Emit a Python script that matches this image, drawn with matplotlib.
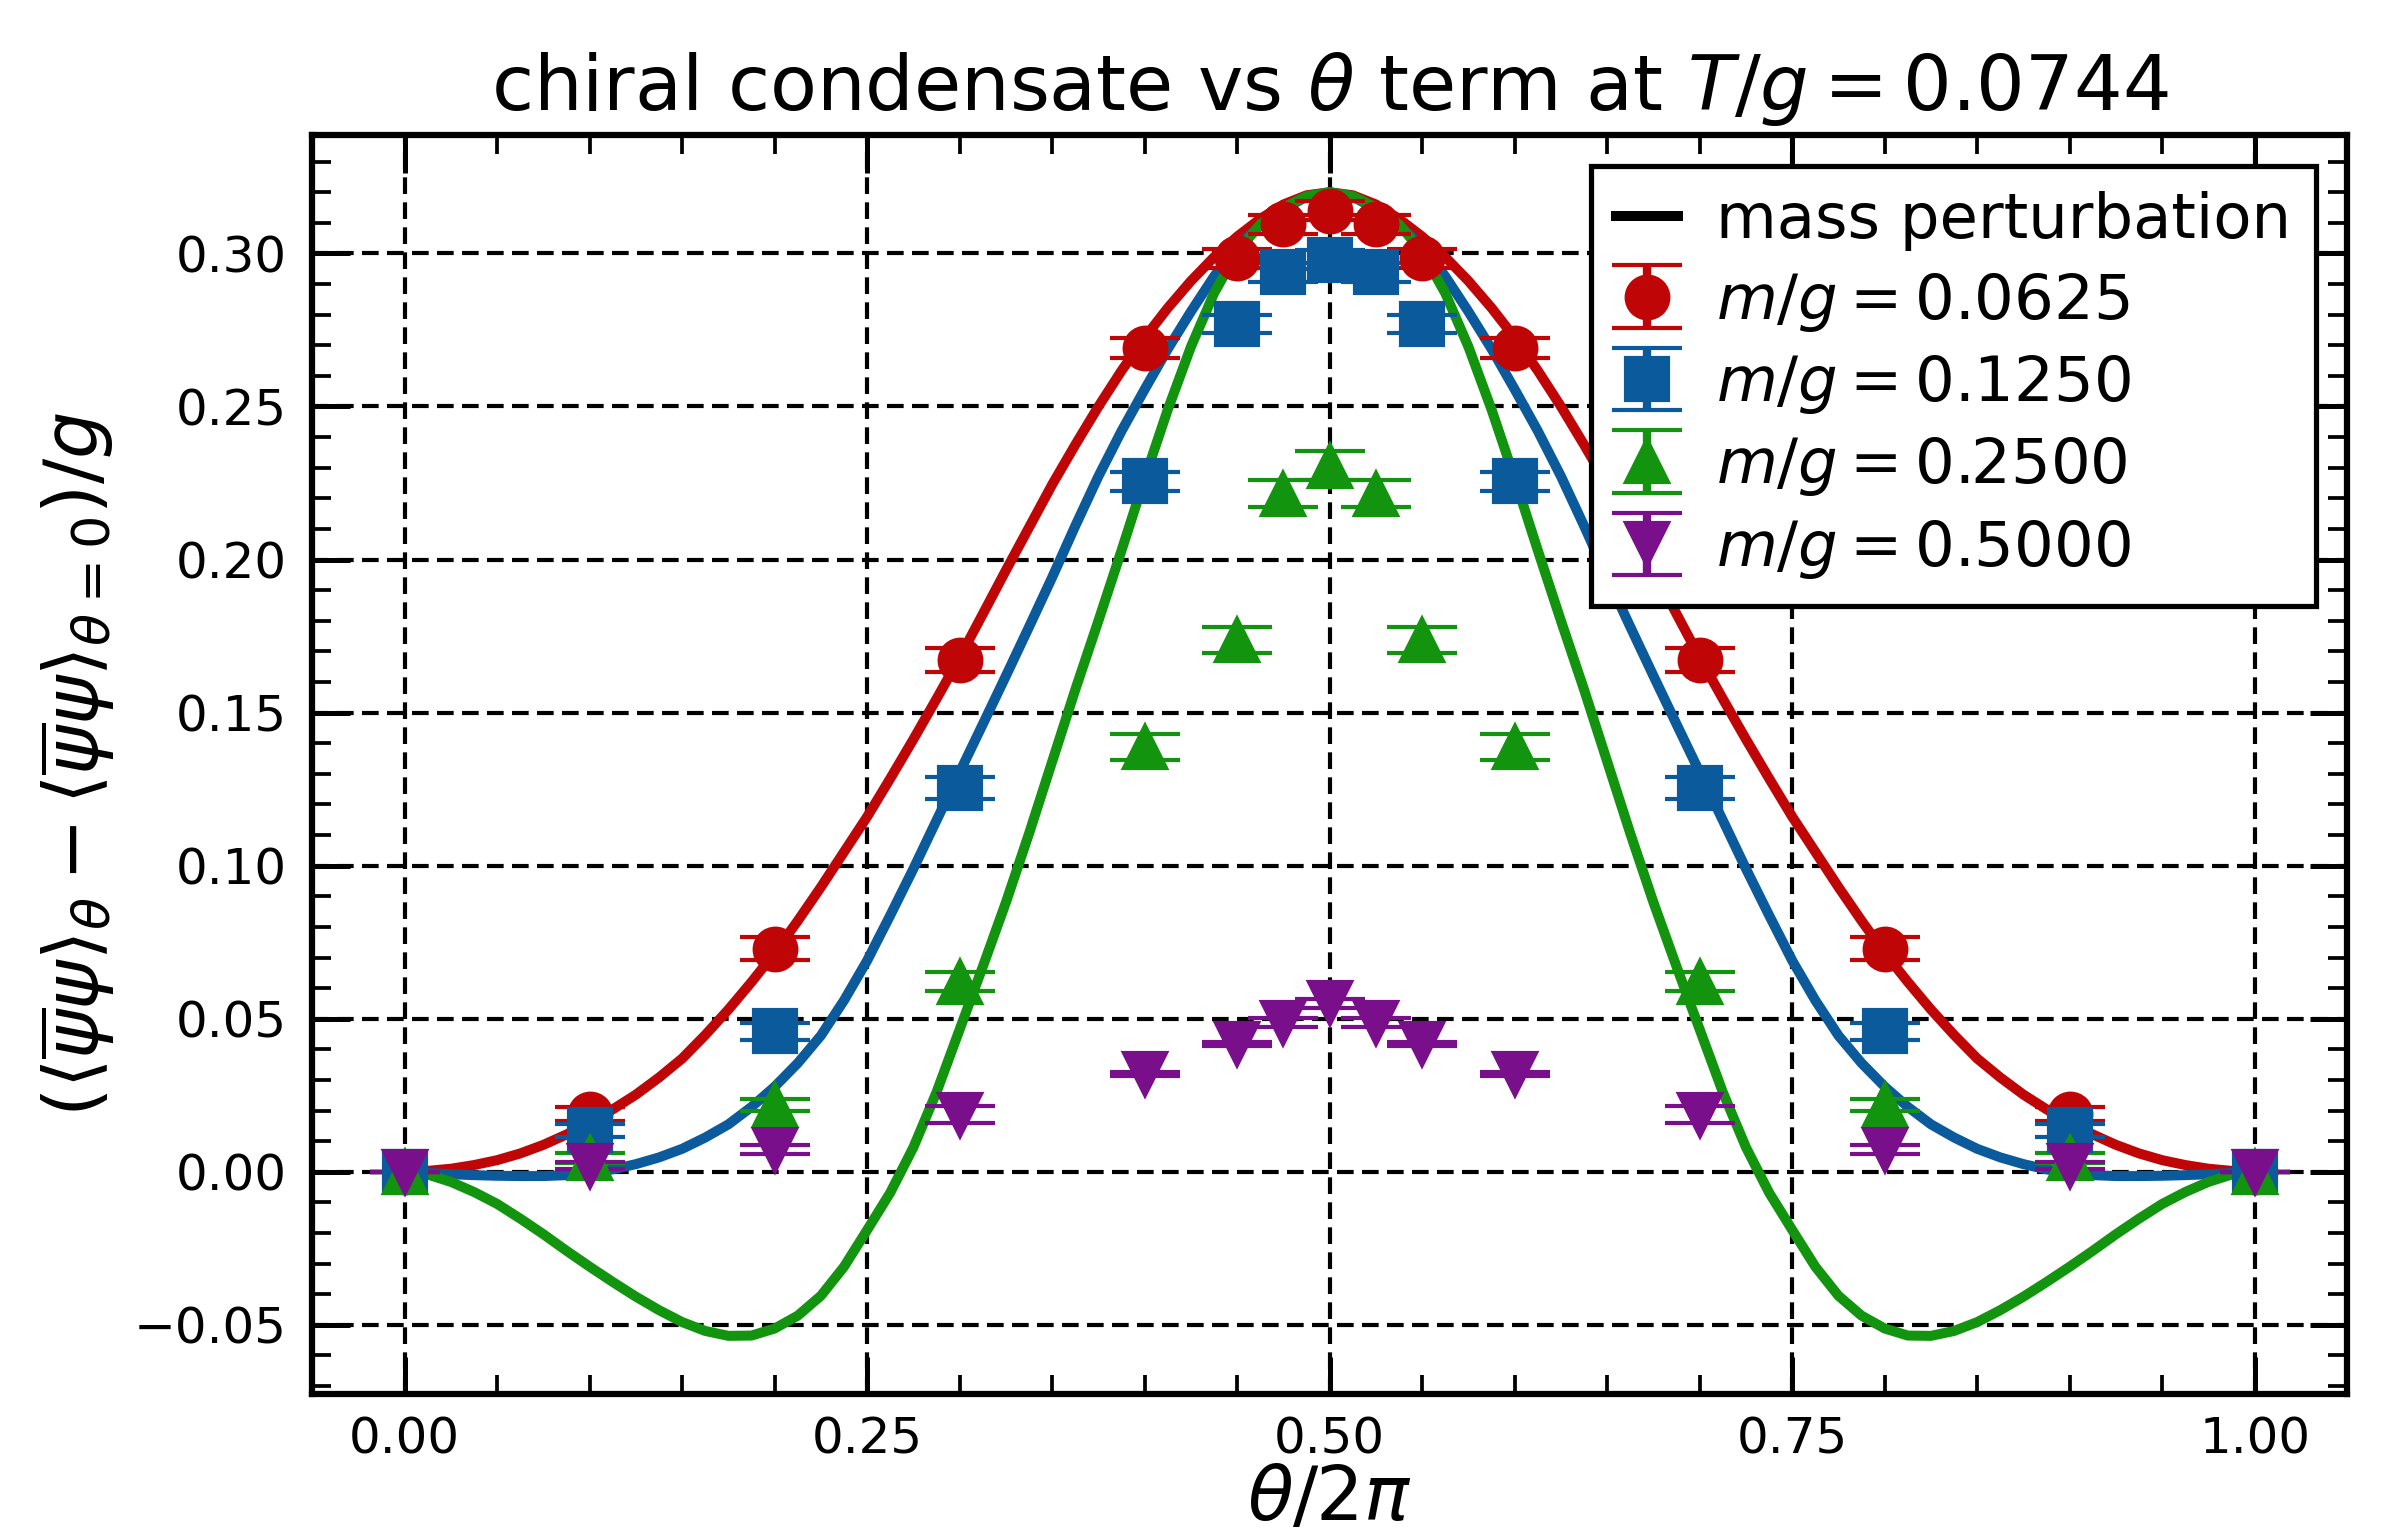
import numpy as np
import matplotlib
matplotlib.use("Agg")
import matplotlib.pyplot as plt
from matplotlib.lines import Line2D
from matplotlib.ticker import MultipleLocator

plt.rcParams['font.family'] = ['DejaVu Sans']
plt.rcParams['mathtext.fontset'] = 'dejavusans'

# ---- data ----
theta_data = [0, 0.1, 0.2, 0.3, 0.4, 0.45, 0.475, 0.5, 0.525, 0.55, 0.6, 0.7, 0.8, 0.9, 1.0]

red_val = [0, 0.0188, 0.0729, 0.1672, 0.2691, 0.2984, 0.3095, 0.3140, 0.3095, 0.2984, 0.2691, 0.1672, 0.0729, 0.0188, 0]
red_err = [0, 0.0023, 0.0038, 0.0040, 0.0034, 0.0030, 0.0030, 0.0030, 0.0030, 0.0030, 0.0034, 0.0040, 0.0038, 0.0023, 0]

blue_val = [0, 0.0135, 0.0459, 0.1254, 0.2256, 0.2769, 0.2938, 0.2980, 0.2938, 0.2769, 0.2256, 0.1254, 0.0459, 0.0135, 0]
blue_err = [0, 0.0022, 0.0028, 0.0036, 0.0031, 0.0030, 0.0030, 0.0030, 0.0030, 0.0030, 0.0031, 0.0036, 0.0028, 0.0022, 0]

green_val = [0, 0.0045, 0.0218, 0.0621, 0.1388, 0.1738, 0.2215, 0.2306, 0.2215, 0.1738, 0.1388, 0.0621, 0.0218, 0.0045, 0]
green_err = [0, 0.0015, 0.0019, 0.0031, 0.0043, 0.0042, 0.0044, 0.0047, 0.0044, 0.0042, 0.0043, 0.0031, 0.0019, 0.0015, 0]

purple_val = [0, 0.0020, 0.0072, 0.0187, 0.0320, 0.0417, 0.0487, 0.0550, 0.0487, 0.0417, 0.0320, 0.0187, 0.0072, 0.0020, 0]
purple_err = [0, 0.0012, 0.0015, 0.0028, 0.0007, 0.0007, 0.0015, 0.0015, 0.0015, 0.0007, 0.0007, 0.0028, 0.0015, 0.0012, 0]

# mass perturbation curves, sampled every 0.0125 in theta/2pi (81 points)
theta_curve = np.linspace(0, 1, 81)
red_curve = [
    0, 0.0003, 0.0010, 0.0022, 0.0038, 0.0060, 0.0088, 0.0122, 0.0160, 0.0204,
    0.0252, 0.0308, 0.0370, 0.0447, 0.0530, 0.0620, 0.0715, 0.0820, 0.0930, 0.1045,
    0.1160, 0.1285, 0.1413, 0.1545, 0.1680, 0.1822, 0.1965, 0.2105, 0.2245, 0.2375,
    0.2500, 0.2617, 0.2725, 0.2822, 0.2910, 0.2988, 0.3055, 0.3113, 0.3160, 0.3190,
    0.3200,
    0.3190, 0.3160, 0.3113, 0.3055, 0.2988, 0.2910, 0.2822, 0.2725, 0.2617, 0.2500,
    0.2375, 0.2245, 0.2105, 0.1965, 0.1822, 0.1680, 0.1545, 0.1413, 0.1285, 0.1160,
    0.1045, 0.0930, 0.0820, 0.0715, 0.0620, 0.0530, 0.0447, 0.0370, 0.0308, 0.0252,
    0.0204, 0.0160, 0.0122, 0.0088, 0.0060, 0.0038, 0.0022, 0.0010, 0.0003, 0]
blue_curve = [
    0, -0.0004, -0.0008, -0.0011, -0.0013, -0.0014, -0.0014, -0.0011, -0.0005, 0.0008,
    0.0025, 0.0047, 0.0075, 0.0112, 0.0155, 0.0212, 0.0278, 0.0355, 0.0445, 0.0560,
    0.0690, 0.0838, 0.0990, 0.1148, 0.1305, 0.1462, 0.1620, 0.1780, 0.1942, 0.2110,
    0.2272, 0.2420, 0.2556, 0.2688, 0.2810, 0.2925, 0.3024, 0.3092, 0.3145, 0.3185,
    0.3200,
    0.3185, 0.3145, 0.3092, 0.3024, 0.2925, 0.2810, 0.2688, 0.2556, 0.2420, 0.2272,
    0.2110, 0.1942, 0.1780, 0.1620, 0.1462, 0.1305, 0.1148, 0.0990, 0.0838, 0.0690,
    0.0560, 0.0445, 0.0355, 0.0278, 0.0212, 0.0155, 0.0112, 0.0075, 0.0047, 0.0025,
    0.0008, -0.0005, -0.0011, -0.0014, -0.0014, -0.0013, -0.0011, -0.0008, -0.0004, 0]
green_curve = [
    0, -0.0009, -0.0033, -0.0066, -0.0105, -0.0153, -0.0204, -0.0258, -0.0310, -0.0360,
    -0.0408, -0.0452, -0.0491, -0.0520, -0.0536, -0.0535, -0.0512, -0.0470, -0.0405, -0.0310,
    -0.0190, -0.0068, 0.0080, 0.0260, 0.0465, 0.0670, 0.0880, 0.1105, 0.1340, 0.1575,
    0.1800, 0.2030, 0.2265, 0.2490, 0.2695, 0.2870, 0.3005, 0.3095, 0.3150, 0.3187,
    0.3200,
    0.3187, 0.3150, 0.3095, 0.3005, 0.2870, 0.2695, 0.2490, 0.2265, 0.2030, 0.1800,
    0.1575, 0.1340, 0.1105, 0.0880, 0.0670, 0.0465, 0.0260, 0.0080, -0.0068, -0.0190,
    -0.0310, -0.0405, -0.0470, -0.0512, -0.0535, -0.0536, -0.0520, -0.0491, -0.0452, -0.0408,
    -0.0360, -0.0310, -0.0258, -0.0204, -0.0153, -0.0105, -0.0066, -0.0033, -0.0009, 0]

labels = [r'$m/g = 0.0625$', r'$m/g = 0.1250$', r'$m/g = 0.2500$', r'$m/g = 0.5000$']
colors = ['#C00507', '#0B5A9C', '#12940E', '#790F8A']
markers = ['o', 's', '^', 'v']

fig = plt.figure(figsize=(2390 / 300, 1539 / 300), dpi=300)
ax = fig.add_axes([0.1306, 0.0940, 0.8515, 0.8183])

# curves first, points on top
for yc, c in zip([red_curve, blue_curve, green_curve], colors):
    ax.plot(theta_curve, yc, color=c, lw=2.4, zorder=2)

handles = [Line2D([], [], color='black', lw=2.4)]
for vals, errs, c, m in zip([red_val, blue_val, green_val, purple_val],
                            [red_err, blue_err, green_err, purple_err], colors, markers):
    h = ax.errorbar(theta_data, vals, yerr=errs, fmt=m, color=c, ms=10,
                    elinewidth=2, capsize=8.5, capthick=1, zorder=3)
    handles.append(h)

ax.set_xlim(-0.05, 1.05)
ax.set_ylim(-0.0727, 0.3387)
ax.xaxis.set_major_locator(MultipleLocator(0.25))
ax.xaxis.set_minor_locator(MultipleLocator(0.05))
ax.yaxis.set_major_locator(MultipleLocator(0.05))
ax.yaxis.set_minor_locator(MultipleLocator(0.01))
ax.tick_params(which='both', direction='in', top=True, right=True, labelsize=12, pad=6)
ax.tick_params(axis='x', which='both', pad=5)
ax.tick_params(which='major', length=9, width=1.2)
ax.tick_params(which='minor', length=4.5, width=0.9)
for sp in ax.spines.values():
    sp.set_linewidth(1.5)

ax.grid(True, which='major', color='black', linestyle=(0, (4, 2)), linewidth=1)

ax.set_title(r'chiral condensate vs $\theta$ term at $T/g = 0.0744$', fontsize=18.4)
ax.set_xlabel(r'$\theta/2\pi$', fontsize=18, labelpad=0)
ax.set_ylabel(r'$(\langle\overline{\psi}\psi\rangle_\theta - \langle\overline{\psi}\psi\rangle_{\theta=0})/g$',
              fontsize=18)

leg = ax.legend(handles, ['mass perturbation'] + labels, loc='upper right', fontsize=15,
                handlelength=1.0, handletextpad=0.6, labelspacing=0.31, borderpad=0.4,
                fancybox=False, framealpha=1, edgecolor='black')
leg.get_frame().set_linewidth(1.25)

fig.savefig('out.png', dpi=300)
